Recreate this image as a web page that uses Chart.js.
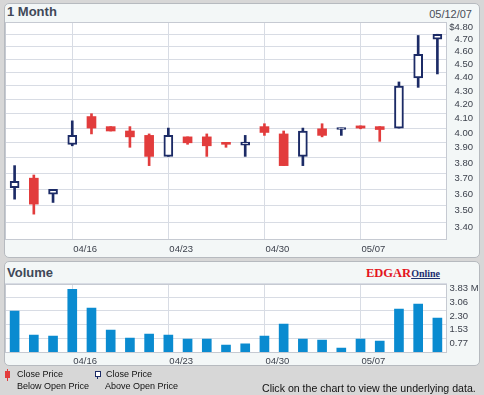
<!DOCTYPE html>
<html lang="en">
<head>
  <meta charset="UTF-8" />
  <title>1 Month</title>
  <script src="https://cdn.jsdelivr.net/npm/chart.js"></script>
  <style>
    body {
      margin: 0;
      width: 484px;
      height: 395px;
      position: relative;
      overflow: hidden;
      background: #d7d7d7;
      font-family: "Liberation Sans", Arial, sans-serif;
    }
    .panel {
      position: absolute;
      left: 4px;
      width: 476px;
      box-sizing: border-box;
      border: 1px solid #b6babf;
      border-radius: 5px;
      background: #f3f7f7;
    }
    .title {
      position: absolute;
      left: 7px;
      font-weight: bold;
      font-size: 13px;
      line-height: 16px;
      color: #404858;
    }
    canvas {
      position: absolute;
      left: 0;
    }
    .txt {
      position: absolute;
      white-space: nowrap;
      color: #111;
    }
    .leg { font-size: 9px; line-height: 11px; }
  </style>
</head>
<body>
  <div class="panel" style="top:3px;height:255px"></div>
  <div class="panel" style="top:261px;height:105px"></div>

  <div class="title" style="top:4px">1 Month</div>
  <div class="txt" style="right:12px;top:8px;font-size:11px;line-height:12px;color:#4a4e58">05/12/07</div>
  <div class="title" style="top:265px">Volume</div>
  <div class="txt" style="left:366px;top:265px;line-height:14px">
    <span style="font:bold 12.5px 'Liberation Serif',serif;color:#e4141c">EDGAR</span><span style="font:bold 10px 'Liberation Serif',serif;color:#1d2f70;text-decoration:underline">Online</span>
  </div>

  <canvas id="price" width="484" height="260" style="top:0"></canvas>
  <canvas id="volume" width="484" height="110" style="top:260px"></canvas>

  <!-- legend -->
  <div style="position:absolute;left:7px;top:369px;width:1px;height:12px;background:#e23c3c"></div>
  <div style="position:absolute;left:5px;top:371px;width:5px;height:7px;background:#e23c3c"></div>
  <div style="position:absolute;left:97px;top:371px;width:1px;height:8px;background:#1c2b66"></div>
  <div style="position:absolute;left:95px;top:371px;width:6px;height:6px;border:1px solid #1c2b66;background:#fff;box-sizing:border-box"></div>
  <div class="txt leg" style="left:17px;top:369px">Close Price</div>
  <div class="txt leg" style="left:17px;top:381px">Below Open Price</div>
  <div class="txt leg" style="left:106px;top:369px">Close Price</div>
  <div class="txt leg" style="left:105px;top:381px">Above Open Price</div>
  <div class="txt" style="left:262px;top:382px;font-size:10.6px;line-height:13px">Click on the chart to view the underlying data.</div>

  <script>
    const days = ['04/11', '04/12', '04/13', '04/16', '04/17', '04/18', '04/19', '04/20',
      '04/23', '04/24', '04/25', '04/26', '04/27', '04/30', '05/01', '05/02', '05/03', '05/04',
      '05/07', '05/08', '05/09', '05/10', '05/11'];
    const openPx  = [3.61, 3.67, 3.57, 3.89, 4.08, 4.01, 3.98, 3.95, 3.81, 3.94, 3.94, 3.895,
      3.885, 4.01, 3.96, 3.81, 3.995, 3.99, 4.015, 4.01, 4.00, 4.36, 4.66];
    const closePx = [3.65, 3.51, 3.60, 3.95, 4.00, 3.98, 3.94, 3.81, 3.95, 3.90, 3.88, 3.89,
      3.905, 3.97, 3.75, 3.98, 3.95, 4.00, 4.00, 3.99, 4.30, 4.54, 4.70];
    const highPx  = [3.75, 3.69, 3.60, 4.05, 4.10, 4.01, 4.01, 3.96, 4.00, 3.94, 3.96, 3.90,
      3.95, 4.03, 3.98, 4.00, 4.03, 4.00, 4.015, 4.01, 4.33, 4.69, 4.70];
    const lowPx   = [3.54, 3.45, 3.52, 3.88, 3.96, 3.98, 3.87, 3.75, 3.81, 3.89, 3.81, 3.87,
      3.81, 3.95, 3.75, 3.75, 3.94, 3.95, 3.995, 3.91, 4.00, 4.29, 4.39];
    const volumeM = [2.29, 0.95, 0.89, 3.51, 2.45, 1.23, 0.78, 1.00, 0.95, 0.72, 0.72, 0.39,
      0.45, 0.89, 1.56, 0.72, 0.67, 0.22, 0.72, 0.61, 2.40, 2.68, 1.90];
    const weekLabels = ['04/16', '04/23', '04/30', '05/07'];
    const priceTicks = [3.4, 3.5, 3.6, 3.7, 3.8, 3.9, 4.0, 4.1, 4.2, 4.3, 4.4, 4.5, 4.6, 4.7, 4.8];
    const volumeTicks = [0.766, 1.532, 2.298, 3.064, 3.83];

    const RED = '#e23c3c';
    const NAVY = '#1c2b66';
    const BLUE = '#0a8bd0';
    const GRID = '#d8dce4';
    const TXT = '#3c414c';
    const tickFont = { family: '"Liberation Sans", Arial, sans-serif', size: 9.5 };

    // white plot area with a thin frame
    const plotBox = {
      id: 'plotBox',
      beforeDraw(chart) {
        const a = chart.chartArea, ctx = chart.ctx;
        ctx.save();
        ctx.fillStyle = '#fff';
        ctx.fillRect(a.left, a.top, a.width, a.height);
        ctx.restore();
      },
      afterDraw(chart) {
        const a = chart.chartArea, ctx = chart.ctx;
        ctx.save();
        ctx.strokeStyle = '#c6cad2';
        ctx.lineWidth = 1;
        ctx.strokeRect(Math.round(a.left) + 0.5, Math.round(a.top) + 0.5,
          Math.round(a.width) - 1, Math.round(a.height) - 1);
        ctx.restore();
      }
    };

    function dateAxis(h) {
      return {
        offset: true,
        afterFit: s => { s.height = h; },
        grid: {
          offset: false,
          drawTicks: false,
          color: c => weekLabels.includes(days[c.index]) ? GRID : 'rgba(0,0,0,0)'
        },
        border: { display: false },
        ticks: {
          autoSkip: false,
          maxRotation: 0,
          align: 'start',
          labelOffset: 1,
          padding: 4,
          color: TXT,
          font: tickFont,
          callback: (v, i) => weekLabels.includes(days[i]) ? days[i] : ''
        }
      };
    }

    const up = openPx.map((o, i) => closePx[i] >= o);

    new Chart(document.getElementById('price'), {
      type: 'bar',
      data: {
        labels: days,
        datasets: [
          {
            label: 'range',
            data: days.map((d, i) => [lowPx[i], highPx[i]]),
            backgroundColor: up.map(u => u ? NAVY : RED),
            borderWidth: 0,
            barThickness: 2,
            grouped: false,
            order: 2
          },
          {
            label: 'open/close',
            data: days.map((d, i) => [openPx[i], closePx[i]]),
            backgroundColor: up.map(u => u ? '#fff' : RED),
            borderColor: up.map(u => u ? NAVY : RED),
            borderWidth: up.map(u => u ? 2 : 0),
            borderSkipped: false,
            barThickness: 9,
            minBarLength: 2,
            grouped: false,
            order: 1
          }
        ]
      },
      options: {
        responsive: false,
        animation: false,
        devicePixelRatio: 1,
        events: [],
        // right padding + axis width put the right-aligned labels' edge near x=473
        layout: { padding: { left: 5, top: 22, right: 11, bottom: 0 } },
        plugins: { legend: { display: false }, tooltip: { enabled: false } },
        scales: {
          x: dateAxis(20),
          y: {
            type: 'logarithmic',
            position: 'right',
            min: 3.3,
            max: 4.8,
            afterFit: s => { s.width = 26; },
            afterBuildTicks: s => { s.ticks = priceTicks.map(v => ({ value: v })); },
            grid: { color: GRID, drawTicks: false },
            border: { display: false },
            ticks: {
              crossAlign: 'far',
              padding: 0,
              labelOffset: 5,
              color: TXT,
              font: tickFont,
              callback: v => (v === 4.8 ? '$' : '') + v.toFixed(2)
            }
          }
        }
      },
      plugins: [plotBox]
    });

    new Chart(document.getElementById('volume'), {
      type: 'bar',
      data: {
        labels: days,
        datasets: [{
          label: 'Volume',
          data: volumeM,
          backgroundColor: BLUE,
          borderWidth: 0,
          barThickness: 9
        }]
      },
      options: {
        responsive: false,
        animation: false,
        devicePixelRatio: 1,
        events: [],
        layout: { padding: { left: 5, top: 23.5, right: 0, bottom: 0 } },
        plugins: { legend: { display: false }, tooltip: { enabled: false } },
        scales: {
          x: dateAxis(18),
          y: {
            position: 'right',
            min: 0,
            max: 3.83,
            afterFit: s => { s.width = 37; },
            afterBuildTicks: s => { s.ticks = volumeTicks.map(v => ({ value: v })); },
            grid: { color: GRID, drawTicks: false },
            border: { display: false },
            ticks: {
              crossAlign: 'near',
              padding: 2.5,
              labelOffset: 5,
              color: TXT,
              font: tickFont,
              callback: (v, i) => v.toFixed(2) + (i === volumeTicks.length - 1 ? ' M' : '')
            }
          }
        }
      },
      plugins: [plotBox]
    });
  </script>
</body>
</html>
